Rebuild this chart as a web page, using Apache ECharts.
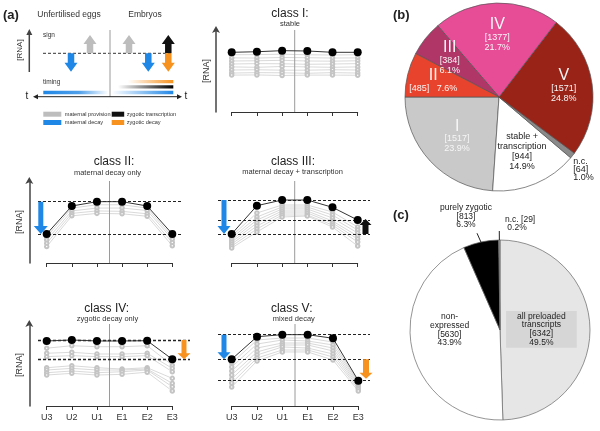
<!DOCTYPE html>
<html><head><meta charset="utf-8">
<script src="https://cdn.jsdelivr.net/npm/echarts@6/dist/echarts.min.js"></script>
<style>html,body{margin:0;padding:0;background:#fff}#c{width:600px;height:431px}</style>
</head><body><div id="c"></div>
<script>
// ---------------- DATA ----------------
const timepoints = ['U3','U2','U1','E1','E2','E3'];

// class I : stable
const classI_rep = [7.28, 7.35, 7.48, 7.44, 7.28, 7.28];
const classI_others = [
  [6.98, 7.00, 7.05, 6.98, 6.95, 6.98],
  [6.60, 6.58, 6.65, 6.62, 6.58, 6.60],
  [6.22, 6.25, 6.30, 6.22, 6.20, 6.25],
  [5.85, 5.90, 5.88, 5.82, 5.85, 5.90],
  [5.50, 5.45, 5.55, 5.50, 5.45, 5.50],
  [5.12, 5.15, 5.10, 5.10, 5.15, 5.12],
  [4.75, 4.80, 4.78, 4.72, 4.80, 4.75],
  [4.50, 4.52, 4.45, 4.50, 4.50, 4.48]
];
// class II : maternal decay only
const classII_rep = [3.54, 6.95, 7.48, 7.48, 6.95, 3.54];
const classII_others = [
  [3.20, 6.70, 7.10, 7.10, 6.70, 3.20],
  [2.80, 6.35, 6.70, 6.70, 6.40, 2.90],
  [2.40, 6.05, 6.35, 6.30, 6.00, 2.50],
  [2.00, 5.75, 6.05, 6.00, 5.70, 2.10]
];
const classII_levels = [7.48, 3.54];
// class III : maternal decay + transcription
const classIII_rep = [3.54, 6.99, 7.68, 7.68, 6.79, 5.24];
const classIII_others = [
  [3.29, 6.10, 7.07, 7.07, 6.22, 4.39],
  [3.05, 5.61, 6.83, 6.83, 5.85, 4.02],
  [2.80, 5.24, 6.59, 6.59, 5.49, 3.66],
  [2.56, 4.88, 6.34, 6.34, 5.12, 3.29],
  [2.32, 4.51, 6.10, 6.10, 4.88, 2.93],
  [2.07, 4.15, 5.85, 5.85, 4.63, 2.56],
  [1.83, 3.78, 5.61, 5.73, 4.39, 2.07]
];
const classIII_levels = [7.68, 5.24, 3.54];
// class IV : zygotic decay only
const classIV_rep = [7.93, 8.05, 7.93, 7.93, 7.96, 5.70];
const classIV_others = [
  [7.05, 7.35, 7.23, 7.23, 7.35, 4.98],
  [6.43, 6.55, 6.34, 6.34, 6.43, 4.59],
  [6.02, 6.14, 6.02, 6.02, 6.14, 4.18],
  [4.67, 4.91, 4.67, 4.51, 4.67, 3.37],
  [4.39, 4.59, 4.39, 4.39, 4.51, 2.76],
  [4.06, 4.27, 4.06, 4.18, 4.39, 2.35],
  [3.78, 3.98, 3.78, 3.86, 4.12, 1.83]
];
const classIV_levels = [8.05, 5.70];
// class V : mixed decay
const classV_rep = [5.70, 8.45, 8.70, 8.70, 8.26, 3.09];
const classV_others = [
  [5.24, 8.05, 8.29, 8.29, 7.80, 2.93],
  [4.76, 7.56, 8.05, 7.93, 7.44, 2.80],
  [4.27, 7.07, 7.68, 7.68, 7.07, 2.62],
  [3.78, 6.59, 7.44, 7.44, 6.71, 2.44],
  [3.29, 6.22, 7.20, 7.07, 6.34, 2.26],
  [2.80, 5.85, 6.83, 6.83, 5.98, 2.07],
  [2.32, 5.49, 6.59, 6.59, 5.61, 1.83]
];
const classV_levels = [8.70, 5.70, 3.09];

const classTitles = ['class I:', 'class II:', 'class III:', 'class IV:', 'class V:'];
const classSubtitles = ['stable', 'maternal decay only', 'maternal decay + transcription', 'zygotic decay only', 'mixed decay'];

// pie (b)
const pieB_names  = ['I', 'stable +\ntranscription', 'n.c.', 'V', 'IV', 'III', 'II'];
const pieB_counts = [1517, 944, 64, 1571, 1377, 384, 485];
const pieB_pct    = ['23.9%', '14.9%', '1.0%', '24.8%', '21.7%', '6.1%', '7.6%'];
// pie (c)
const pieC_names  = ['all preloaded\ntranscripts', 'non-\nexpressed', 'purely zygotic', 'n.c.'];
const pieC_counts = [6342, 5630, 813, 29];
const pieC_pct    = ['49.5%', '43.9%', '6.3%', '0.2%'];

// schematic legend
const legendItems = ['maternal provision', 'maternal decay', 'zygotic transcription', 'zygotic decay'];

// ---------------- STYLE ----------------
const FONT = 'Liberation Sans, Arial, Helvetica, sans-serif';
const BLUE = '#1f87e5', ORANGE = '#f7921e', GRAYA = '#bdbdbd', BLACK = '#111';
const pieB_colors = ['#c9c9c9', '#ffffff', '#8a8a8a', '#9a2318', '#e74c96', '#b03668', '#e8432c'];
const pieC_colors = ['#e6e6e6', '#ffffff', '#000000', '#9a9a9a'];

const gridsPos = [
  {left: 231.7, top: 30,  width: 126,   height: 82},
  {left: 46.7,  top: 181, width: 125.6, height: 82},
  {left: 231.7, top: 181, width: 126,   height: 82},
  {left: 46.7,  top: 324, width: 125.6, height: 82},
  {left: 231.7, top: 324, width: 126.6, height: 82}
];
const classes = [
  {rep: classI_rep,   others: classI_others,   levels: [],              yArrow: true,  yOffset: 15.7, ticks: false, dash: null},
  {rep: classII_rep,  others: classII_others,  levels: classII_levels,  yArrow: true,  yOffset: 17.4, ticks: false, dash: [38, 183]},
  {rep: classIII_rep, others: classIII_others, levels: classIII_levels, yArrow: false, yOffset: 0,    ticks: false, dash: [218, 370]},
  {rep: classIV_rep,  others: classIV_others,  levels: classIV_levels,  yArrow: true,  yOffset: 17.4, ticks: true,  dash: [38, 190]},
  {rep: classV_rep,   others: classV_others,   levels: classV_levels,   yArrow: false, yOffset: 0,    ticks: true,  dash: [218, 370]}
];
const titlePos = [[290, 13.5, 290, 24], [114, 161.7, 107.5, 172.7], [293, 161.7, 292.5, 172.3], [106.7, 308.3, 107.5, 319.3], [291.7, 308.3, 293.8, 319.3]];

// ---------------- BUILD ----------------
const grid = [], xAxis = [], yAxis = [], series = [];
classes.forEach((c, gi) => {
  grid.push(Object.assign({containLabel: false}, gridsPos[gi]));
  xAxis.push({
    gridIndex: gi, type: 'category', data: timepoints, boundaryGap: false,
    axisLine: {lineStyle: {color: '#333', width: 1}},
    axisTick: {show: true, length: 4, lineStyle: {color: '#333'}},
    axisLabel: {show: c.ticks, fontSize: 9, color: '#333', margin: 7, fontFamily: FONT},
    splitLine: {show: false}
  });
  yAxis.push({
    gridIndex: gi, type: 'value', min: 0, max: 10, show: c.yArrow, offset: c.yOffset,
    axisLine: {show: true, symbol: ['none', 'arrow'], symbolSize: [6, 7], symbolOffset: [0, 4], lineStyle: {color: '#444', width: 1.5}},
    axisTick: {show: false}, axisLabel: {show: false}, splitLine: {show: false},
    name: '[RNA]', nameLocation: 'middle', nameRotate: 90, nameGap: 5,
    nameTextStyle: {fontSize: 9, color: '#333', fontFamily: FONT}
  });
  c.others.forEach(arr => series.push({
    type: 'line', xAxisIndex: gi, yAxisIndex: gi, data: arr, silent: true, clip: false,
    symbol: 'emptyCircle', symbolSize: 3.5, z: 2,
    lineStyle: {color: '#cfcfcf', width: 0.8}, itemStyle: {color: '#c4c4c4', borderWidth: 0.8}
  }));
  const s = {
    type: 'line', xAxisIndex: gi, yAxisIndex: gi, data: c.rep, silent: true, clip: false,
    symbol: 'circle', symbolSize: 8, z: 5,
    lineStyle: {color: '#333', width: 1}, itemStyle: {color: '#000'}
  };
  if (c.levels.length) {
    s.markLine = {
      silent: true, symbol: ['none', 'none'], label: {show: false}, animation: false,
      lineStyle: {type: [3, 2], color: '#222', width: gi === 3 ? 1.4 : 1},
      data: c.levels.map(v => [{x: c.dash[0], yAxis: v}, {x: c.dash[1], yAxis: v}])
    };
  }
  series.push(s);
});

// pie label placement helper
function pieLayout(counts, center, R, startDeg, clockwise, distF, angAdj, aligns) {
  const total = counts.reduce((a, b) => a + b, 0);
  return function (p) {
    const i = p.dataIndex;
    let acc = 0; for (let k = 0; k < i; k++) acc += counts[k];
    const mid = startDeg + (clockwise ? -1 : 1) * (acc + counts[i] / 2) / total * 360 + (angAdj[i] || 0);
    const rad = mid * Math.PI / 180;
    const r = distF[i] * R;
    return {x: center[0] + r * Math.cos(rad), y: center[1] - r * Math.sin(rad), align: aligns[i] || 'center', verticalAlign: 'middle'};
  };
}
function midAngle(counts, i, startDeg, clockwise) {
  const total = counts.reduce((a, b) => a + b, 0);
  let acc = 0; for (let k = 0; k < i; k++) acc += counts[k];
  return startDeg + (clockwise ? -1 : 1) * (acc + counts[i] / 2) / total * 360;
}

const PB = {center: [499, 97], R: 94};
const PC = {center: [500, 330], R: 90};

series.push({
  type: 'pie', center: PB.center, radius: PB.R, startAngle: 180, clockwise: false,
  avoidLabelOverlap: false, silent: true, animation: false,
  itemStyle: {borderColor: '#555', borderWidth: 0.7},
  labelLine: {show: false},
  label: {
    show: true, position: 'inside', fontFamily: FONT,
    rich: {
      big: {fontSize: 16, color: '#f6f6f6', lineHeight: 15, fontFamily: FONT, align: 'center'},
      s: {fontSize: 9, color: '#f6f6f6', lineHeight: 10, fontFamily: FONT, align: 'center'},
      d: {fontSize: 9, color: '#222', lineHeight: 10, fontFamily: FONT, align: 'center'},
      dl: {fontSize: 9, color: '#222', lineHeight: 8, fontFamily: FONT, align: 'left'}
    }
  },
  labelLayout: pieLayout(pieB_counts, PB.center, PB.R, 180, false,
    [0.61, 0.63, 1.1, 0.70, 0.66, 0.67, 0.72], [0, 0, -5.7, 2, 0, 0, 0],
    ['center', 'center', 'left', 'center', 'center', 'center', 'center']),
  data: pieB_names.map((n, i) => {
    let f;
    if (/^[IV]+$/.test(n)) {
      f = n === 'II'
        ? '{big|' + n + '}\n{s|[' + pieB_counts[i] + ']   ' + pieB_pct[i] + '}'
        : '{big|' + n + '}\n{s|[' + pieB_counts[i] + ']}\n{s|' + pieB_pct[i] + '}';
    } else if (n === 'n.c.') {
      f = '{dl|' + n + '}\n{dl|[' + pieB_counts[i] + ']}\n{dl|' + pieB_pct[i] + '}';
    } else {
      f = n.split('\n').map(t => '{d|' + t + '}').join('\n') + '\n{d|[' + pieB_counts[i] + ']}\n{d|' + pieB_pct[i] + '}';
    }
    return {value: pieB_counts[i], name: n, itemStyle: {color: pieB_colors[i]}, label: {formatter: f}};
  })
});

series.push({
  type: 'pie', center: PC.center, radius: PC.R, startAngle: 90, clockwise: true,
  avoidLabelOverlap: false, silent: true, animation: false,
  itemStyle: {borderColor: '#666', borderWidth: 0.7},
  labelLine: {show: false},
  label: {
    show: true, position: 'inside', fontFamily: FONT,
    rich: {
      d: {fontSize: 8.5, color: '#222', lineHeight: 8.7, fontFamily: FONT, align: 'center'},
      dl: {fontSize: 8.5, color: '#222', lineHeight: 8, fontFamily: FONT, align: 'left'}
    }
  },
  labelLayout: pieLayout(pieC_counts, PC.center, PC.R, 90, true,
    [0.46, 0.56, 1.32, 1.18], [0, -12.75, 4.4, -3.1], ['center', 'center', 'center', 'left']),
  data: pieC_names.map((n, i) => {
    let f, extra = {};
    if (n === 'n.c.') {
      f = '{dl|' + n + ' [' + pieC_counts[i] + ']}\n{dl| ' + pieC_pct[i] + '}';
    } else {
      f = n.split('\n').map(t => '{d|' + t + '}').join('\n') + '\n{d|[' + pieC_counts[i] + ']}\n{d|' + pieC_pct[i] + '}';
    }
    if (i === 0) extra = {backgroundColor: '#d6d6d6', padding: [1, 11, 1, 11]};
    return {value: pieC_counts[i], name: n, itemStyle: {color: pieC_colors[i]}, label: Object.assign({formatter: f}, extra)};
  })
});

const chart = echarts.init(document.getElementById('c'), null, {renderer: 'canvas'});
chart.setOption({animation: false, backgroundColor: '#fff', grid, xAxis, yAxis, series});

// ---------------- DECORATIONS ----------------
const G = [];
function txt(x, y, s, o) {
  G.push({type: 'text', x: x, y: y, silent: true, z: 20, rotation: (o && o.rot) || 0,
    style: {text: s, fill: (o && o.fill) || '#333', font: ((o && o.weight) || 'normal') + ' ' + ((o && o.size) || 8) + 'px ' + FONT,
      textAlign: (o && o.align) || 'left', textVerticalAlign: 'middle', align: (o && o.align) || 'left', verticalAlign: 'middle'}});
}
function line(x1, y1, x2, y2, color, w, dash) {
  G.push({type: 'line', silent: true, z: 3, shape: {x1, y1, x2, y2}, style: {stroke: color, lineWidth: w || 1, lineDash: dash || null}});
}
function arrow(x, yFrom, yTo, color, shaftW, headW, headL) {
  const dir = yTo > yFrom ? 1 : -1;
  const yh = yTo - dir * headL;
  G.push({type: 'polygon', silent: true, z: 12, shape: {points: [
    [x - shaftW / 2, yFrom], [x + shaftW / 2, yFrom], [x + shaftW / 2, yh], [x + headW / 2, yh],
    [x, yTo], [x - headW / 2, yh], [x - shaftW / 2, yh]]}, style: {fill: color}});
}
function grad(x, y, w, h, stops) {
  G.push({type: 'rect', silent: true, z: 5, shape: {x, y, width: w, height: h},
    style: {fill: {type: 'linear', x: 0, y: 0, x2: 1, y2: 0, colorStops: stops}}});
}
function rect(x, y, w, h, c) {
  G.push({type: 'rect', silent: true, z: 5, shape: {x, y, width: w, height: h}, style: {fill: c}});
}

// class titles, separators
classes.forEach((c, gi) => {
  const tp = titlePos[gi];
  txt(tp[0], tp[1], classTitles[gi], {size: 12, align: 'center', fill: '#222'});
  txt(tp[2], tp[3], classSubtitles[gi], {size: 7.5, align: 'center', fill: '#333'});
  const xs = (chart.convertToPixel({xAxisIndex: gi}, 'U1') + chart.convertToPixel({xAxisIndex: gi}, 'E1')) / 2;
  const yTop = chart.convertToPixel({yAxisIndex: gi}, 10);
  const yBot = chart.convertToPixel({yAxisIndex: gi}, 0);
  line(xs, yTop, xs, yBot, '#9a9a9a', 1);
});
const yp = (gi, v) => chart.convertToPixel({yAxisIndex: gi}, v);
// change arrows (from level to level)
arrow(40.8, yp(1, classII_levels[0]), yp(1, classII_levels[1]), BLUE, 5, 14, 8);
arrow(224, yp(2, classIII_levels[0]), yp(2, classIII_levels[2]), BLUE, 5, 13, 8);
arrow(365.5, yp(2, classIII_levels[2]), yp(2, classIII_levels[1]) - 1, BLACK, 6, 12, 6);
arrow(184, yp(3, classIV_levels[0]), yp(3, classIV_levels[1]), ORANGE, 5, 13, 6);
arrow(224, yp(4, classV_levels[0]), yp(4, classV_levels[1]), BLUE, 5, 13, 7);
arrow(366, yp(4, classV_levels[1]), yp(4, classV_levels[2]) - 2, ORANGE, 6, 13, 6);

// panel letters
txt(3, 15, '(a)', {size: 13, weight: 'bold', fill: '#222'});
txt(393, 15, '(b)', {size: 13, weight: 'bold', fill: '#222'});
txt(393, 215, '(c)', {size: 13, weight: 'bold', fill: '#222'});

// schematic
txt(69, 15, 'Unfertilised eggs', {size: 8.5, align: 'center'});
txt(145, 15, 'Embryos', {size: 8.5, align: 'center'});
line(29.3, 72, 29.3, 34, '#444', 1.5);
G.push({type: 'polygon', silent: true, z: 6, shape: {points: [[26.3, 35], [32.3, 35], [29.3, 29]]}, style: {fill: '#444'}});
txt(20, 50, '[RNA]', {size: 8, align: 'center', rot: Math.PI / 2});
txt(43, 35, 'sign', {size: 6.5});
line(43, 53.3, 173, 53.3, '#333', 1, [3, 2]);
line(110, 30, 110, 97, '#9a9a9a', 1);
arrow(71, 53.3, 71.7, BLUE, 6.5, 13, 9);
arrow(90, 53.3, 35, GRAYA, 6.5, 13, 9);
arrow(129, 53.3, 35, GRAYA, 6.5, 13, 9);
arrow(148.3, 53.3, 71.7, BLUE, 6.5, 13, 9);
arrow(168.3, 53.3, 35, BLACK, 6.5, 13, 9);
arrow(168.3, 53.3, 71.7, ORANGE, 6.5, 13, 9);
txt(43, 82.7, 'timing', {size: 6.5});
grad(43.3, 90.7, 65, 3.6, [{offset: 0, color: BLUE}, {offset: 0.55, color: '#4f9fe9'}, {offset: 1, color: '#ffffff'}]);
grad(128, 80, 45.3, 3.3, [{offset: 0, color: '#ffffff'}, {offset: 1, color: ORANGE}]);
grad(118, 85.3, 55.3, 3.3, [{offset: 0, color: '#ffffff'}, {offset: 1, color: '#000000'}]);
grad(111.7, 90.7, 61.6, 3.6, [{offset: 0, color: '#ffffff'}, {offset: 1, color: BLUE}]);
line(36, 96.7, 179, 96.7, '#222', 1);
G.push({type: 'polygon', silent: true, z: 6, shape: {points: [[33, 96.7], [38, 94.2], [38, 99.2]]}, style: {fill: '#222'}});
G.push({type: 'polygon', silent: true, z: 6, shape: {points: [[182, 96.7], [177, 94.2], [177, 99.2]]}, style: {fill: '#222'}});
txt(25.5, 96, 't', {size: 10, fill: '#222'});
txt(184.5, 96, 't', {size: 10, fill: '#222'});
// legend
const legCols = [GRAYA, BLUE, BLACK, ORANGE];
const legPos = [[43.3, 111.7], [43.3, 120], [111.7, 111.7], [111.7, 120]];
legendItems.forEach((t, i) => {
  rect(legPos[i][0], legPos[i][1], i < 2 ? 18 : 12.5, 5, legCols[i]);
  txt(legPos[i][0] + (i < 2 ? 21.5 : 15), legPos[i][1] + 2.5, t, {size: 5.6});
});

// pie (c) leader lines for the small outside-labelled slices
[2, 3].forEach(i => {
  const a = midAngle(pieC_counts, i, 90, true) * Math.PI / 180;
  const c = PC.center, R = PC.R;
  line(c[0] + R * Math.cos(a), c[1] - R * Math.sin(a), c[0] + R * 1.1 * Math.cos(a) - (i === 2 ? 2 : 0), c[1] - R * 1.1 * Math.sin(a), '#222', 1);
});

chart.setOption({graphic: {elements: G}});
</script></body></html>
